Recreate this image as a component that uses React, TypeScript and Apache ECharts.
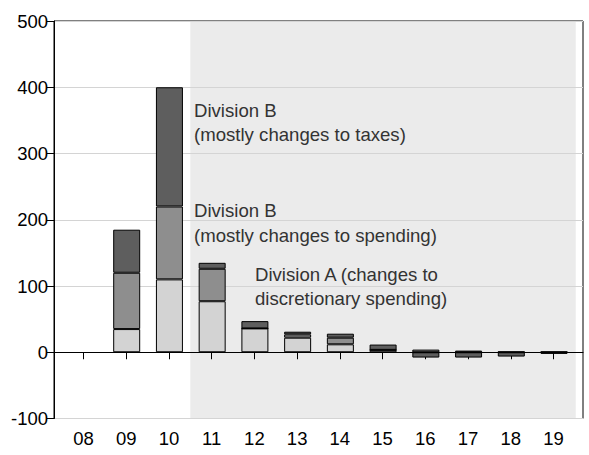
import React, { useEffect, useRef } from "react";
import * as echarts from "echarts";

const years = ["08", "09", "10", "11", "12", "13", "14", "15", "16", "17", "18", "19"];
const yearValues = [8, 9, 10, 11, 12, 13, 14, 15, 16, 17, 18, 19];
const divisionA = ["-", 35, 110, 77, 36, 22, 12, 3.6, 0, 0, 0, 0];
const divisionBSpending = ["-", 85, 110, 49, 0, 5, 10, 0, 4, 2.5, 1, 1];
const divisionBTaxes = ["-", 65, 180, 9, 11, 4, 6, 8, -8, -8, -6.5, -2.5];
const yTicks = { min: -100, max: 500, interval: 100 };
const shadedFrom = 10.5;
const shadedTo = 19.52;

const FONT = "'Liberation Sans', Arial, sans-serif";

export default function App() {
  const ref = useRef<HTMLDivElement>(null);
  useEffect(() => {
    if (!ref.current) return;
    const chart = echarts.init(ref.current, null, { renderer: "svg" });
    const barBase = {
      type: "bar",
      stack: "total",
      barWidth: 27,
      xAxisIndex: 1,
      yAxisIndex: 1,
      silent: true,
    };
    chart.setOption({
      animation: false,
      grid: [
        {
          left: 54,
          right: 6,
          top: 21,
          bottom: 36.5,
          show: true,
          borderColor: "#000",
          borderWidth: 1,
          backgroundColor: "transparent",
        },
        {
          left: 62.6,
          right: 13.6,
          top: 21,
          bottom: 36.5,
        },
      ],
      xAxis: [
        {
          type: "value",
          gridIndex: 0,
          min: 7.31,
          max: 19.69,
          splitLine: { show: false },
          axisLine: { show: true, lineStyle: { color: "#000" } },
          axisTick: {
            show: true,
            customValues: yearValues,
            length: 7,
            lineStyle: { color: "#000" },
          },
          axisLabel: {
            customValues: yearValues,
            formatter: (v: number) => years[yearValues.indexOf(v)],
            fontSize: 18.5,
            fontFamily: FONT,
            color: "#000",
            margin: 10,
          },
        },
        {
          type: "category",
          gridIndex: 1,
          data: years,
          show: false,
        },
      ],
      yAxis: [
        {
          type: "value",
          gridIndex: 0,
          min: yTicks.min,
          max: yTicks.max,
          interval: yTicks.interval,
          axisLine: { show: true, lineStyle: { color: "#000" } },
          axisTick: { show: true, length: 7, lineStyle: { color: "#000" } },
          axisLabel: {
            fontSize: 18.5,
            fontFamily: FONT,
            color: "#000",
            margin: 6,
          },
          splitLine: { show: true, lineStyle: { color: "#d4d4d4", width: 1 } },
        },
        {
          type: "value",
          gridIndex: 1,
          min: yTicks.min,
          max: yTicks.max,
          interval: yTicks.interval,
          show: false,
          splitLine: { show: false },
        },
      ],
      series: [
        {
          type: "line",
          xAxisIndex: 0,
          yAxisIndex: 0,
          data: [],
          silent: true,
          markArea: {
            z: -1,
            silent: true,
            itemStyle: { color: "#ebebeb" },
            data: [[{ xAxis: shadedFrom }, { xAxis: shadedTo }]],
          },
          markLine: {
            silent: true,
            symbol: "none",
            label: { show: false },
            lineStyle: { color: "#000", type: "solid", width: 1 },
            data: [{ yAxis: 0 }],
          },
        },
        {
          ...barBase,
          name: "Division A",
          data: divisionA,
          itemStyle: { color: "#d3d3d3", borderColor: "#000", borderWidth: 1 },
        },
        {
          ...barBase,
          name: "Division B spending",
          data: divisionBSpending,
          itemStyle: { color: "#8e8e8e", borderColor: "#000", borderWidth: 1 },
        },
        {
          ...barBase,
          name: "Division B taxes",
          data: divisionBTaxes,
          itemStyle: { color: "#5e5e5e", borderColor: "#000", borderWidth: 1 },
        },
      ],
      graphic: [
        { type: "text", left: 194, top: 98, style: { text: "Division B\n(mostly changes to taxes)", fontSize: 18.6, fontFamily: FONT, fill: "#333", lineHeight: 24 } },
        { type: "text", left: 194, top: 198, style: { text: "Division B\n(mostly changes to spending)", fontSize: 18.6, fontFamily: FONT, fill: "#333", lineHeight: 25 } },
        { type: "text", left: 255, top: 262, style: { text: "Division A (changes to\ndiscretionary spending)", fontSize: 18.6, fontFamily: FONT, fill: "#333", lineHeight: 24 } },
      ],
    });
    return () => chart.dispose();
  }, []);
  return (
    <div
      ref={ref}
      style={{ position: "absolute", left: 0, top: 0, width: 589, height: 455 }}
    />
  );
}
